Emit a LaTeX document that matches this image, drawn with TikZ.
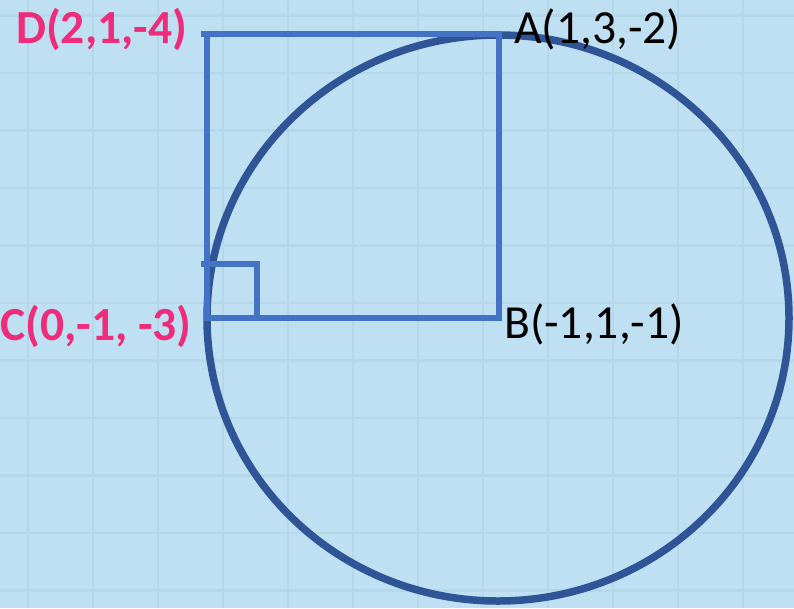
\documentclass[tikz,border=0pt]{standalone}
\usepackage{fontspec}
\setmainfont{Carlito}
\definecolor{bgblue}{RGB}{191,224,242}
\definecolor{gridblue}{RGB}{181,215,234}
\definecolor{sqblue}{RGB}{68,114,196}
\definecolor{circblue}{RGB}{47,85,151}
\definecolor{pinklab}{RGB}{238,44,122}
\tikzset{
  gridline/.style={gridblue, line width=2.5pt},
  sqline/.style={sqblue, line width=6pt},
  circline/.style={circblue, line width=7.5pt},
  blacklab/.style={inner sep=0pt, anchor=base west, font=\fontsize{47.5}{52}\selectfont, text=black},
  pinklabel/.style={inner sep=0pt, anchor=base west, font=\fontsize{47.5}{52}\selectfont\bfseries, text=pinklab},
}
\begin{document}
\begin{tikzpicture}[x=1pt,y=-1pt]
\useasboundingbox (0,0) rectangle (794,608);
\fill[bgblue] (0,0) rectangle (794,608);
\foreach \gx in {28,93,...,800} {\draw[gridline] (\gx,0) -- (\gx,608);}
\foreach \gy in {15.5,73,...,610} {\draw[gridline] (0,\gy) -- (794,\gy);}
% circle
\coordinate (O) at (498,318);
\draw[circline] (O) ellipse [x radius=291, y radius=283];
% square corners
\coordinate (A) at (499,33.7);
\coordinate (B) at (499,318);
\coordinate (C) at (207,318);
\coordinate (D) at (207,33.7);
\coordinate (Dl) at (201,33.7);
\coordinate (M1) at (201,263.5);
\coordinate (M2) at (256.5,263.5);
\coordinate (M3) at (256.5,318);
\draw[sqline] (Dl) -- (A) -- (B) -- (C) -- (D);
\draw[sqline] (M1) -- (M2) -- (M3);
% labels
\node[blacklab] (la) at (514,43) {A(1,3,-2)};
\node[blacklab] (lb) at (504,338) {B(-1,1,-1)};
\node[pinklabel] (ld) at (16,43) {D(2,1,-4)};
\node[pinklabel] (lc) at (0,340) {C(0,-1, -3)};
\end{tikzpicture}
\end{document}
